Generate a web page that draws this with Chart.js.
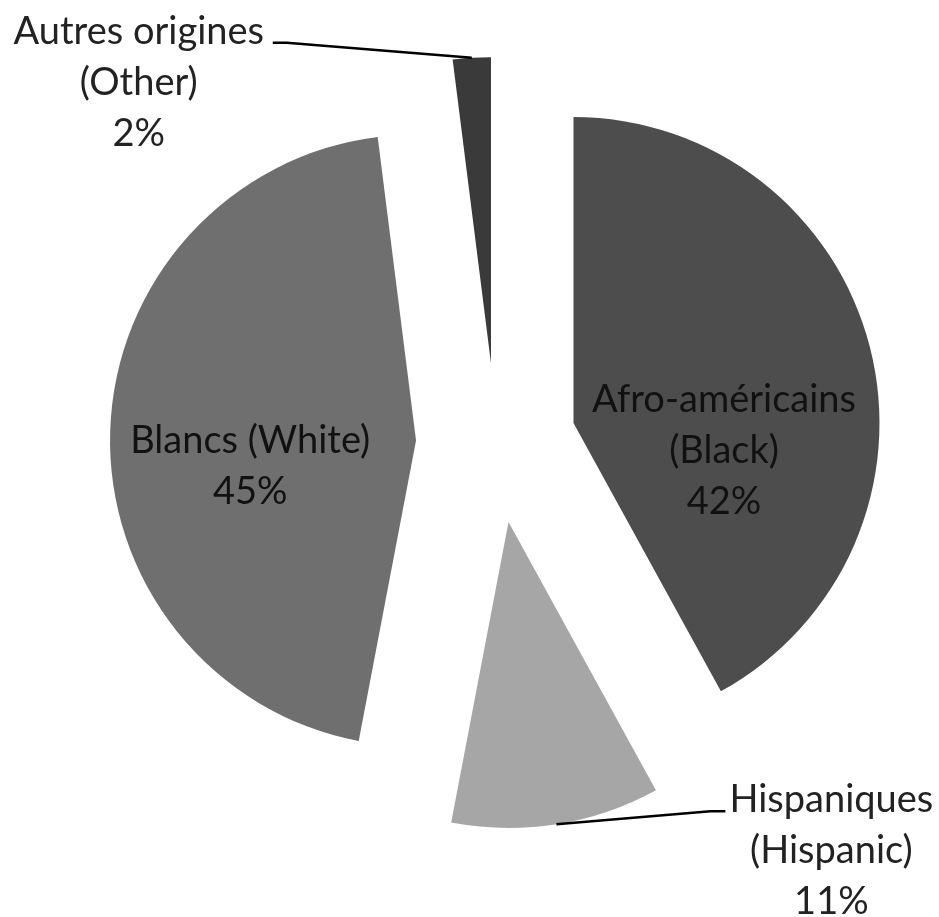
<!DOCTYPE html>
<html>
<head>
<meta charset="utf-8">
<script src="https://cdn.jsdelivr.net/npm/chart.js@4.4.0/dist/chart.umd.min.js"></script>
<style>
  html, body { margin: 0; padding: 0; background: #fff; }
  #wrap { width: 939px; height: 917px; }
</style>
</head>
<body>
<div id="wrap"><canvas id="pie"></canvas></div>
<script>
// data, clockwise from 12 o'clock
const namesFr = ['Afro-américains', 'Hispaniques', 'Blancs', 'Autres origines'];
const namesEn = ['(Black)', '(Hispanic)', '(White)', '(Other)'];
const shares = [42, 11, 45, 2];
const colors = ['#4d4d4d', '#a6a6a6', '#6f6f6f', '#3a3a3a'];

const EXPLODE = 80;      // px each slice is pulled out
const RADIUS = 306;
const FONT = '38px Lato';
const LINE_H = 51;

// label placement, in units of the radius for inside labels,
// in px from the rim midpoint for outside ones (with leader line)
const LABEL_PLACE = [
    { inside: true, dx: 0.492, dy: -0.036 },
    { inside: false, elbow: [154, -13], end: [169, -13], text: [275, -12] },
    { inside: true, dx: -0.542, dy: 0.041 },
    { inside: false, elbow: [-185, -15], end: [-199, -15], text: [-333, -14] }
];

function labelLines(i) {
    const pct = shares[i] + '%';
    if (i === 2) return [namesFr[i] + ' ' + namesEn[i], pct];
    return [namesFr[i], namesEn[i], pct];
}

// pull every slice out along its mid angle
const explode = {
    id: 'explode',
    afterDatasetsUpdate(chart) {
        chart.getDatasetMeta(0).data.forEach(arc => {
            const mid = (arc.startAngle + arc.endAngle) / 2;
            arc.x += Math.cos(mid) * EXPLODE;
            arc.y += Math.sin(mid) * EXPLODE;
        });
    }
};

const sliceLabels = {
    id: 'sliceLabels',
    afterDatasetsDraw(chart) {
        const ctx = chart.ctx;
        const arcs = chart.getDatasetMeta(0).data;
        ctx.save();
        ctx.font = FONT;
        ctx.textAlign = 'center';
        ctx.textBaseline = 'alphabetic';
        arcs.forEach((arc, i) => {
            const p = LABEL_PLACE[i];
            const r = arc.outerRadius;
            const lines = labelLines(i);
            let tx, ty;
            if (p.inside) {
                tx = arc.x + p.dx * r;
                ty = arc.y + p.dy * r;
                ctx.fillStyle = '#111';
            } else {
                const mid = (arc.startAngle + arc.endAngle) / 2;
                const rx = arc.x + Math.cos(mid) * r;
                const ry = arc.y + Math.sin(mid) * r;
                ctx.strokeStyle = '#000';
                ctx.lineWidth = 2.5;
                ctx.beginPath();
                ctx.moveTo(rx, ry);
                ctx.lineTo(rx + p.elbow[0], ry + p.elbow[1]);
                ctx.lineTo(rx + p.end[0], ry + p.end[1]);
                ctx.stroke();
                tx = rx + p.text[0];
                ty = ry + p.text[1];
                ctx.fillStyle = '#222';
            }
            lines.forEach((s, k) => ctx.fillText(s, tx, ty + k * LINE_H));
        });
        ctx.restore();
    }
};

new Chart(document.getElementById('pie'), {
    type: 'pie',
    data: {
        labels: namesFr,
        datasets: [{
            data: shares,
            backgroundColor: colors,
            borderWidth: 0,
            radius: RADIUS
        }]
    },
    options: {
        responsive: true,
        maintainAspectRatio: false,
        animation: false,
        events: [],
        layout: { padding: { left: 53, right: 0, top: 0, bottom: 31 } },
        plugins: {
            legend: { display: false },
            tooltip: { enabled: false }
        }
    },
    plugins: [explode, sliceLabels]
});
</script>
</body>
</html>
